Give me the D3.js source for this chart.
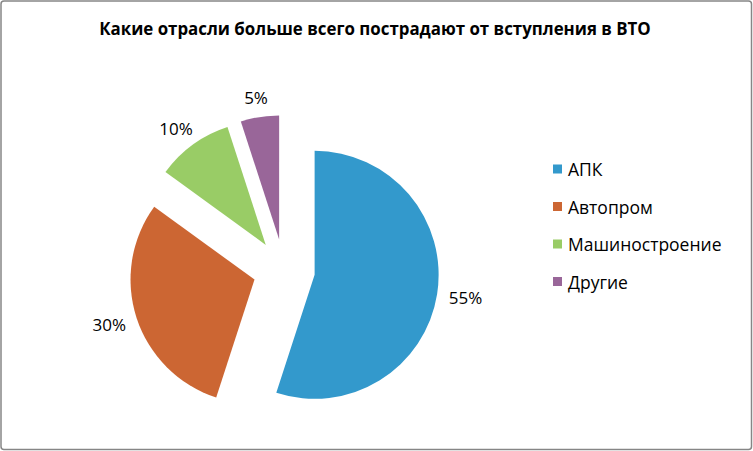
<!DOCTYPE html>
<html><head><meta charset="utf-8">
<script src="https://cdn.jsdelivr.net/npm/d3@7"></script>
<style>body{margin:0;background:#fff}svg{display:block}</style>
</head><body>
<script>
const title = "Какие отрасли больше всего пострадают от вступления в ВТО";
const categories = ["АПК", "Автопром", "Машиностроение", "Другие"];
const values = [55, 30, 10, 5];
const colors = ["#3399CC", "#CC6633", "#99CC66", "#996699"];

const W = 753, H = 451;
const svg = d3.select("body").append("svg").attr("width", W).attr("height", H);
svg.append("rect").attr("x", 1).attr("y", 1).attr("width", W - 2.5).attr("height", H - 2.5)
  .attr("rx", 3).attr("fill", "#fff").attr("stroke", "#868686").attr("stroke-width", 1.5);

const font = "'Open Sans', 'DejaVu Sans', sans-serif";

// title
const t = svg.append("text").attr("x", 375).attr("y", 35).attr("text-anchor", "middle")
  .attr("font-family", font).attr("font-weight", "bold").attr("font-size", 16).attr("fill", "#000").text(title);
const tw = t.node().getComputedTextLength();
t.attr("font-size", 16 * 552 / tw);

const cx = 284, cy = 270, r = 124, explode = 31, gap = 12;
const pie = d3.pie().sort(null).value(d => d)(values);
const arc = d3.arc().innerRadius(0).outerRadius(r);
const g = svg.append("g").attr("transform", `translate(${cx},${cy})`);

pie.forEach((p, i) => {
  const mid = (p.startAngle + p.endAngle) / 2;
  const dx = Math.sin(mid), dy = -Math.cos(mid);
  g.append("path").attr("d", arc(p)).attr("fill", colors[i])
    .attr("transform", `translate(${dx * explode},${dy * explode})`);
  const lbl = g.append("text").attr("font-family", font).attr("font-size", 17).attr("fill", "#000")
    .attr("text-anchor", "middle").attr("dominant-baseline", "central").text(values[i] + "%");
  const hw = lbl.node().getComputedTextLength() / 2, hh = 8;
  const rr = explode + r + gap;
  lbl.attr("x", dx * rr + hw * dx).attr("y", dy * rr + hh * dy);
});

// legend
const lg = svg.append("g");
categories.forEach((c, i) => {
  const y = 169 + i * 37.5;
  lg.append("rect").attr("x", 553).attr("y", y - 4.5).attr("width", 9).attr("height", 9).attr("fill", colors[i]);
  lg.append("text").attr("x", 568).attr("y", y).attr("dominant-baseline", "central")
    .attr("font-family", font).attr("font-size", 17.5).attr("fill", "#000").text(c);
});
</script>
</body></html>
